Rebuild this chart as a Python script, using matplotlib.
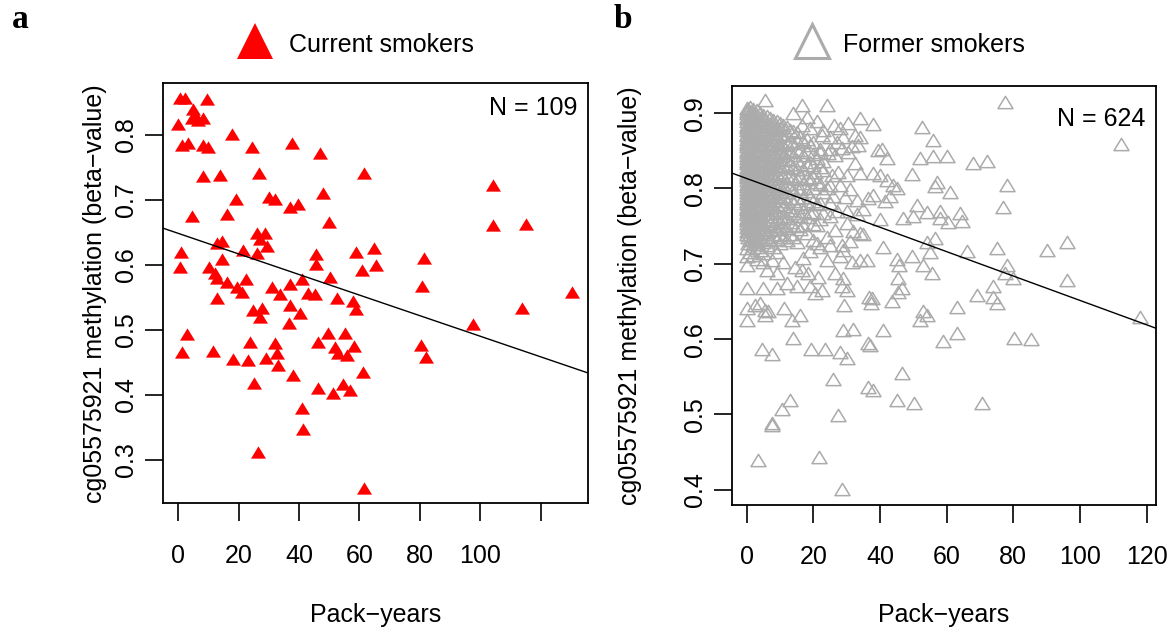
import matplotlib
matplotlib.use("Agg")
import matplotlib.pyplot as plt
from matplotlib.path import Path

plt.rcParams['font.family'] = ['Liberation Sans', 'DejaVu Sans']

# ---- panel a: current smokers (pack-years, beta-value) ----
current_x = [0.6, 2.2, 9.4, 4.9, 4.5, 6.5, 8.2, 0.0, 1.2, 3.2, 8.2, 9.8, 17.8, 24.4, 37.7, 46.9,
             8.2, 13.8, 26.7, 61.5, 19.1, 30.0, 32.0, 37.0, 39.6, 47.9, 4.5, 16.1, 49.9, 26.1,
             28.7, 12.8, 14.5, 0.9, 21.4, 26.1, 29.4, 45.6, 58.8, 64.8, 0.6, 14.5, 10.2, 45.6,
             60.8, 65.5, 12.2, 12.8, 16.1, 22.4, 19.4, 21.1, 31.0, 37.0, 40.9, 50.2, 12.8, 33.7,
             42.9, 45.3, 52.6, 57.9, 58.8, 24.7, 27.7, 27.1, 37.0, 40.3, 36.7, 2.9, 1.2, 11.5,
             18.1, 23.1, 23.7, 29.0, 32.0, 32.7, 33.0, 38.0, 25.1, 46.3, 49.6, 51.9, 52.9, 55.2,
             58.2, 55.9, 61.0, 46.3, 51.2, 54.5, 56.9, 41.0, 41.3, 26.4, 61.5, 104.2, 104.2, 115.1,
             81.4, 80.7, 130.4, 113.8, 97.6, 80.4, 82.0, 5.5, 27.0]
current_y = [0.857, 0.857, 0.855, 0.840, 0.826, 0.823, 0.826, 0.817, 0.785, 0.788, 0.785, 0.782,
             0.802, 0.782, 0.788, 0.772, 0.737, 0.738, 0.742, 0.742, 0.702, 0.705, 0.702, 0.689,
             0.694, 0.711, 0.675, 0.678, 0.666, 0.649, 0.649, 0.634, 0.637, 0.620, 0.623, 0.618,
             0.629, 0.617, 0.620, 0.626, 0.597, 0.609, 0.597, 0.602, 0.592, 0.600, 0.588, 0.580,
             0.574, 0.578, 0.566, 0.558, 0.566, 0.571, 0.578, 0.582, 0.549, 0.555, 0.557, 0.555,
             0.549, 0.545, 0.532, 0.531, 0.534, 0.520, 0.538, 0.526, 0.511, 0.494, 0.466, 0.468,
             0.455, 0.454, 0.482, 0.457, 0.480, 0.465, 0.446, 0.431, 0.418, 0.482, 0.495, 0.474,
             0.465, 0.495, 0.475, 0.462, 0.435, 0.411, 0.403, 0.417, 0.408, 0.380, 0.348, 0.312,
             0.257, 0.723, 0.662, 0.663, 0.611, 0.568, 0.558, 0.534, 0.509, 0.477, 0.458, 0.830,
             0.640]
current_fit = (0.6486, -0.001582)   # intercept, slope of the fitted line
current_n = "N = 109"

# ---- panel b: former smokers ----
# scattered points outside the dense cloud
former_sparse = [
    (77.5, 0.915), (112.2, 0.859), (38, 0.885), (52.5, 0.881), (56, 0.865), (40.5, 0.852),
    (42, 0.841), (52, 0.841), (56, 0.843), (60.2, 0.843), (67.8, 0.834), (72.2, 0.836),
    (38, 0.820), (40, 0.818), (42, 0.811), (44, 0.805), (38, 0.791), (41.5, 0.783),
    (49.5, 0.819), (57, 0.809), (56.5, 0.803), (61, 0.796), (78.2, 0.805), (77, 0.775),
    (51, 0.778), (47, 0.761), (50, 0.763), (54, 0.769), (58, 0.770), (58, 0.761),
    (60.5, 0.756), (64, 0.767), (64.5, 0.757), (41, 0.722), (45, 0.707), (45.8, 0.699),
    (49.5, 0.710), (52.8, 0.699), (54, 0.729), (56.5, 0.734), (55, 0.716), (55.5, 0.688),
    (45.5, 0.681), (46.5, 0.668), (45.5, 0.663), (43.5, 0.650), (37.5, 0.654), (66, 0.717),
    (75, 0.721), (78, 0.699), (77.5, 0.688), (80, 0.681), (90, 0.718), (96, 0.729),
    (96, 0.679), (118, 0.630), (69, 0.659), (74, 0.670), (73.8, 0.656), (75, 0.648),
    (63, 0.643), (53, 0.637), (52, 0.626), (54, 0.632), (41, 0.612), (37, 0.592),
    (59, 0.597), (63.2, 0.608), (80.2, 0.601), (85.3, 0.600), (46.5, 0.555), (38, 0.533),
    (45, 0.519), (50.2, 0.515), (70.5, 0.515),
    (0, 0.641), (2.5, 0.645), (4, 0.648), (5.5, 0.639), (6.5, 0.638), (0, 0.625),
    (5.5, 0.632), (11.3, 0.642), (13.5, 0.625), (16, 0.632), (14, 0.601), (4.5, 0.587),
    (7.5, 0.580), (19.3, 0.587), (23.5, 0.587), (28, 0.583), (30, 0.575), (26, 0.547),
    (13, 0.519), (10.5, 0.507), (7.5, 0.489), (7.5, 0.486), (27.5, 0.499), (3.5, 0.440),
    (21.7, 0.443), (28.5, 0.401), (29.3, 0.645), (29, 0.612), (32, 0.614), (36.7, 0.656),
    (37.3, 0.648), (36.5, 0.595), (36.5, 0.537), (30, 0.665),
    (5.5, 0.918), (16.5, 0.911), (24, 0.911), (34, 0.893), (26.3, 0.884), (28, 0.880),
    (30.5, 0.887), (19, 0.880), (16.5, 0.884), (22.5, 0.871), (25, 0.869), (32.5, 0.871),
    (34, 0.869), (31.5, 0.856), (33.5, 0.858), (28.5, 0.854), (30.5, 0.849), (32.5, 0.834),
    (39.5, 0.851), (22, 0.849), (24.5, 0.847), (26.5, 0.845), (20.5, 0.822), (23, 0.825),
    (25.5, 0.818), (27.5, 0.822), (30, 0.818), (34, 0.820),
    (21, 0.752), (26.5, 0.745), (30, 0.754), (29.5, 0.789), (33, 0.785), (36.5, 0.787),
    (32, 0.743), (34, 0.741), (25, 0.725), (28.5, 0.725), (29, 0.718), (24, 0.705),
    (28, 0.710), (31.5, 0.703), (34, 0.705), (36, 0.705), (26.5, 0.688), (29, 0.681),
    (28.5, 0.670), (21.5, 0.683), (18.5, 0.688), (16.5, 0.692), (19, 0.670), (20.5, 0.661),
    (22.5, 0.665),
    (0.5, 0.736), (0, 0.721), (0, 0.710), (0, 0.699), (3, 0.734), (6, 0.736), (9, 0.716),
    (7.5, 0.705), (6, 0.692), (9, 0.688), (11, 0.703), (14.5, 0.696), (0, 0.668), (5, 0.668),
    (9, 0.668), (12, 0.674), (15, 0.670),
    (24, 0.800), (26, 0.790), (27, 0.770), (28, 0.804), (30, 0.770), (31, 0.799), (33, 0.766),
    (35, 0.773), (27, 0.862), (29, 0.868), (23, 0.878), (21, 0.890), (18, 0.895), (14, 0.900),
    (24, 0.735), (22, 0.722), (19, 0.717), (17, 0.708), (31, 0.730), (35, 0.740), (40, 0.760),
    (43, 0.790), (45, 0.800),
]
# dense cloud at low pack-years: (pack-years, [beta-values])
former_dense = [
    (0, [0.907, 0.903, 0.900, 0.895, 0.893, 0.889, 0.884, 0.882, 0.877, 0.873, 0.871, 0.866,
         0.862, 0.859, 0.856, 0.851, 0.848, 0.845, 0.840, 0.836, 0.834, 0.829, 0.826, 0.821,
         0.818, 0.815, 0.811, 0.806, 0.803, 0.799, 0.796, 0.792, 0.787, 0.784, 0.781, 0.776,
         0.773, 0.769, 0.766, 0.761, 0.758, 0.754, 0.749, 0.744, 0.739]),
    (0.5, [0.905, 0.897, 0.886, 0.879, 0.868, 0.861, 0.853, 0.842, 0.835, 0.824, 0.816, 0.808,
           0.797, 0.789, 0.779, 0.771, 0.762, 0.752, 0.743, 0.727]),
    (1, [0.908, 0.901, 0.894, 0.888, 0.880, 0.875, 0.869, 0.863, 0.855, 0.849, 0.844, 0.838,
         0.831, 0.825, 0.819, 0.812, 0.807, 0.800, 0.794, 0.788, 0.782, 0.777, 0.770, 0.765,
         0.759, 0.751, 0.746, 0.738, 0.731, 0.716]),
    (1.5, [0.902, 0.891, 0.883, 0.870, 0.858, 0.847, 0.833, 0.822, 0.810, 0.798, 0.785, 0.774,
           0.763, 0.748, 0.733]),
    (2, [0.906, 0.899, 0.893, 0.886, 0.878, 0.872, 0.866, 0.860, 0.852, 0.846, 0.839, 0.832,
         0.827, 0.820, 0.814, 0.805, 0.801, 0.793, 0.786, 0.780, 0.773, 0.767, 0.760, 0.753,
         0.745, 0.737, 0.726, 0.712]),
    (3, [0.904, 0.897, 0.890, 0.884, 0.877, 0.870, 0.864, 0.857, 0.850, 0.843, 0.837, 0.830,
         0.823, 0.817, 0.809, 0.803, 0.796, 0.790, 0.783, 0.776, 0.770, 0.763, 0.756, 0.749,
         0.741, 0.730, 0.722, 0.707]),
    (4, [0.900, 0.894, 0.887, 0.879, 0.872, 0.866, 0.858, 0.851, 0.845, 0.838, 0.830, 0.824,
         0.816, 0.809, 0.801, 0.795, 0.787, 0.780, 0.774, 0.766, 0.758, 0.751, 0.742, 0.733,
         0.718]),
    (5, [0.898, 0.892, 0.885, 0.878, 0.871, 0.865, 0.859, 0.852, 0.846, 0.839, 0.833, 0.826,
         0.819, 0.813, 0.806, 0.800, 0.793, 0.787, 0.780, 0.773, 0.767, 0.760, 0.753, 0.746,
         0.739, 0.729, 0.714, 0.702]),
    (6, [0.896, 0.888, 0.881, 0.873, 0.865, 0.857, 0.850, 0.843, 0.835, 0.828, 0.821, 0.813,
         0.805, 0.798, 0.791, 0.783, 0.776, 0.768, 0.759, 0.751, 0.742, 0.725]),
    (7, [0.893, 0.886, 0.877, 0.869, 0.861, 0.853, 0.845, 0.836, 0.828, 0.820, 0.812, 0.803,
         0.796, 0.788, 0.779, 0.771, 0.763, 0.754, 0.745, 0.731]),
    (8, [0.891, 0.883, 0.874, 0.866, 0.859, 0.850, 0.842, 0.834, 0.826, 0.817, 0.809, 0.801,
         0.793, 0.785, 0.776, 0.768, 0.759, 0.750, 0.740, 0.722]),
    (9, [0.889, 0.879, 0.869, 0.858, 0.848, 0.839, 0.829, 0.819, 0.808, 0.799, 0.789, 0.778,
         0.769, 0.757, 0.746, 0.733]),
    (10, [0.887, 0.880, 0.872, 0.863, 0.855, 0.847, 0.838, 0.830, 0.822, 0.814, 0.805, 0.797,
          0.789, 0.780, 0.772, 0.763, 0.755, 0.746, 0.738, 0.727]),
    (11, [0.884, 0.871, 0.858, 0.844, 0.831, 0.817, 0.804, 0.790, 0.777, 0.764, 0.750, 0.735]),
    (12, [0.882, 0.871, 0.861, 0.850, 0.839, 0.828, 0.817, 0.806, 0.795, 0.783, 0.772, 0.761,
          0.748, 0.732]),
    (13, [0.878, 0.863, 0.848, 0.832, 0.817, 0.802, 0.787, 0.771, 0.756, 0.740]),
    (14, [0.876, 0.861, 0.845, 0.829, 0.814, 0.798, 0.783, 0.767, 0.752, 0.735]),
    (15, [0.875, 0.863, 0.851, 0.838, 0.826, 0.813, 0.801, 0.788, 0.776, 0.763, 0.750, 0.729]),
    (16, [0.868, 0.851, 0.833, 0.816, 0.799, 0.781, 0.764, 0.746]),
    (17, [0.863, 0.845, 0.826, 0.807, 0.789, 0.770, 0.752]),
    (18, [0.866, 0.849, 0.831, 0.814, 0.797, 0.779, 0.762, 0.741]),
    (19, [0.858, 0.835, 0.812, 0.789, 0.768]),
    (20, [0.862, 0.846, 0.831, 0.815, 0.800, 0.784, 0.769, 0.753, 0.731]),
    (21, [0.840, 0.808, 0.779, 0.727]),
    (22, [0.853, 0.829, 0.806, 0.781, 0.760]),
    (23, [0.836, 0.796, 0.768]),
    (25, [0.852, 0.804, 0.781, 0.763]),
]
former_fit = (0.8133, -0.001619)
former_n = "N = 624"

xticks = [0, 20, 40, 60, 80, 100, 120]
xticklabels_a = ["0", "20", "40", "60", "80", "100", ""]
xticklabels_b = ["0", "20", "40", "60", "80", "100", "120"]
yticks_a = [0.3, 0.4, 0.5, 0.6, 0.7, 0.8]
yticks_b = [0.4, 0.5, 0.6, 0.7, 0.8, 0.9]

former_x = [p[0] for p in former_sparse]
former_y = [p[1] for p in former_sparse]
for px, ys in former_dense:
    for v in ys:
        former_x.append(px)
        former_y.append(v)

# R-like triangle (a bit flatter than matplotlib's '^')
tri = Path([(0, 0.82), (-1, -0.82), (1, -0.82), (0, 0.82)],
           [Path.MOVETO, Path.LINETO, Path.LINETO, Path.CLOSEPOLY])

grey = "#ababab"
fs = 18

fig = plt.figure(figsize=(11.73, 6.29), dpi=100)
ax1 = fig.add_axes([0.139, 0.1998, 0.3623, 0.6678])
ax2 = fig.add_axes([0.624, 0.1971, 0.3615, 0.6661])


def style(ax, xlabels, yticks):
    ax.set_xticks(xticks)
    ax.set_xticklabels(xlabels)
    ax.set_yticks(yticks)
    ax.set_yticklabels([f"{t:.1f}" for t in yticks], rotation=90, va="center")
    ax.tick_params(direction="out", length=13, width=1.2, labelsize=fs)
    ax.tick_params(axis="x", pad=16)
    ax.tick_params(axis="y", pad=5)
    for s in ax.spines.values():
        s.set_linewidth(1.3)
    ax.set_xlabel("Pack\u2212years", fontsize=fs)
    ax.set_ylabel("cg05575921 methylation (beta\u2212value)", fontsize=fs)


# panel a
ax1.plot(current_x, current_y, ls="none", marker=tri, ms=10.8, color="red", mew=0)
ax1.axline((0, current_fit[0]), slope=current_fit[1], color="black", lw=1.0)
ax1.set_xlim(-5.07, 135.7)
ax1.set_ylim(0.2334, 0.8795)
style(ax1, xticklabels_a, yticks_a)
ax1.xaxis.set_label_coords(0.5, -0.238)
ax1.yaxis.set_label_coords(-0.133, 0.5)
ax1.text(0.975, 0.925, current_n, transform=ax1.transAxes, ha="right", va="baseline", fontsize=fs)

# panel b
ax2.plot(former_x, former_y, ls="none", marker=tri, ms=10.8, mfc="none", mec=grey, mew=1.1)
ax2.axline((0, former_fit[0]), slope=former_fit[1], color="black", lw=1.0)
ax2.set_xlim(-4.41, 122.8)
ax2.set_ylim(0.3798, 0.936)
style(ax2, xticklabels_b, yticks_b)
ax2.xaxis.set_label_coords(0.5, -0.235)
ax2.yaxis.set_label_coords(-0.212, 0.5)
ax2.text(0.975, 0.905, former_n, transform=ax2.transAxes, ha="right", va="baseline", fontsize=fs)

# panel letters and group keys
fig.text(0.0098, 0.955, "a", fontsize=24, fontweight="bold", family="Liberation Serif")
fig.text(0.523, 0.955, "b", fontsize=24, fontweight="bold", family="Liberation Serif")
fig.lines.append(plt.Line2D([255 / 1173], [1 - 41 / 629], transform=fig.transFigure,
                            marker="^", ms=26, color="red", mew=0, ls="none"))
fig.text(289 / 1173, 1 - 51.7 / 629, "Current smokers", fontsize=fs, va="baseline")
fig.lines.append(plt.Line2D([812 / 1173], [1 - 41 / 629], transform=fig.transFigure,
                            marker="^", ms=24, mfc="none", mec=grey, mew=2.2, ls="none"))
fig.text(843 / 1173, 1 - 51.7 / 629, "Former smokers", fontsize=fs, va="baseline")

fig.savefig("out.png", dpi=100)
